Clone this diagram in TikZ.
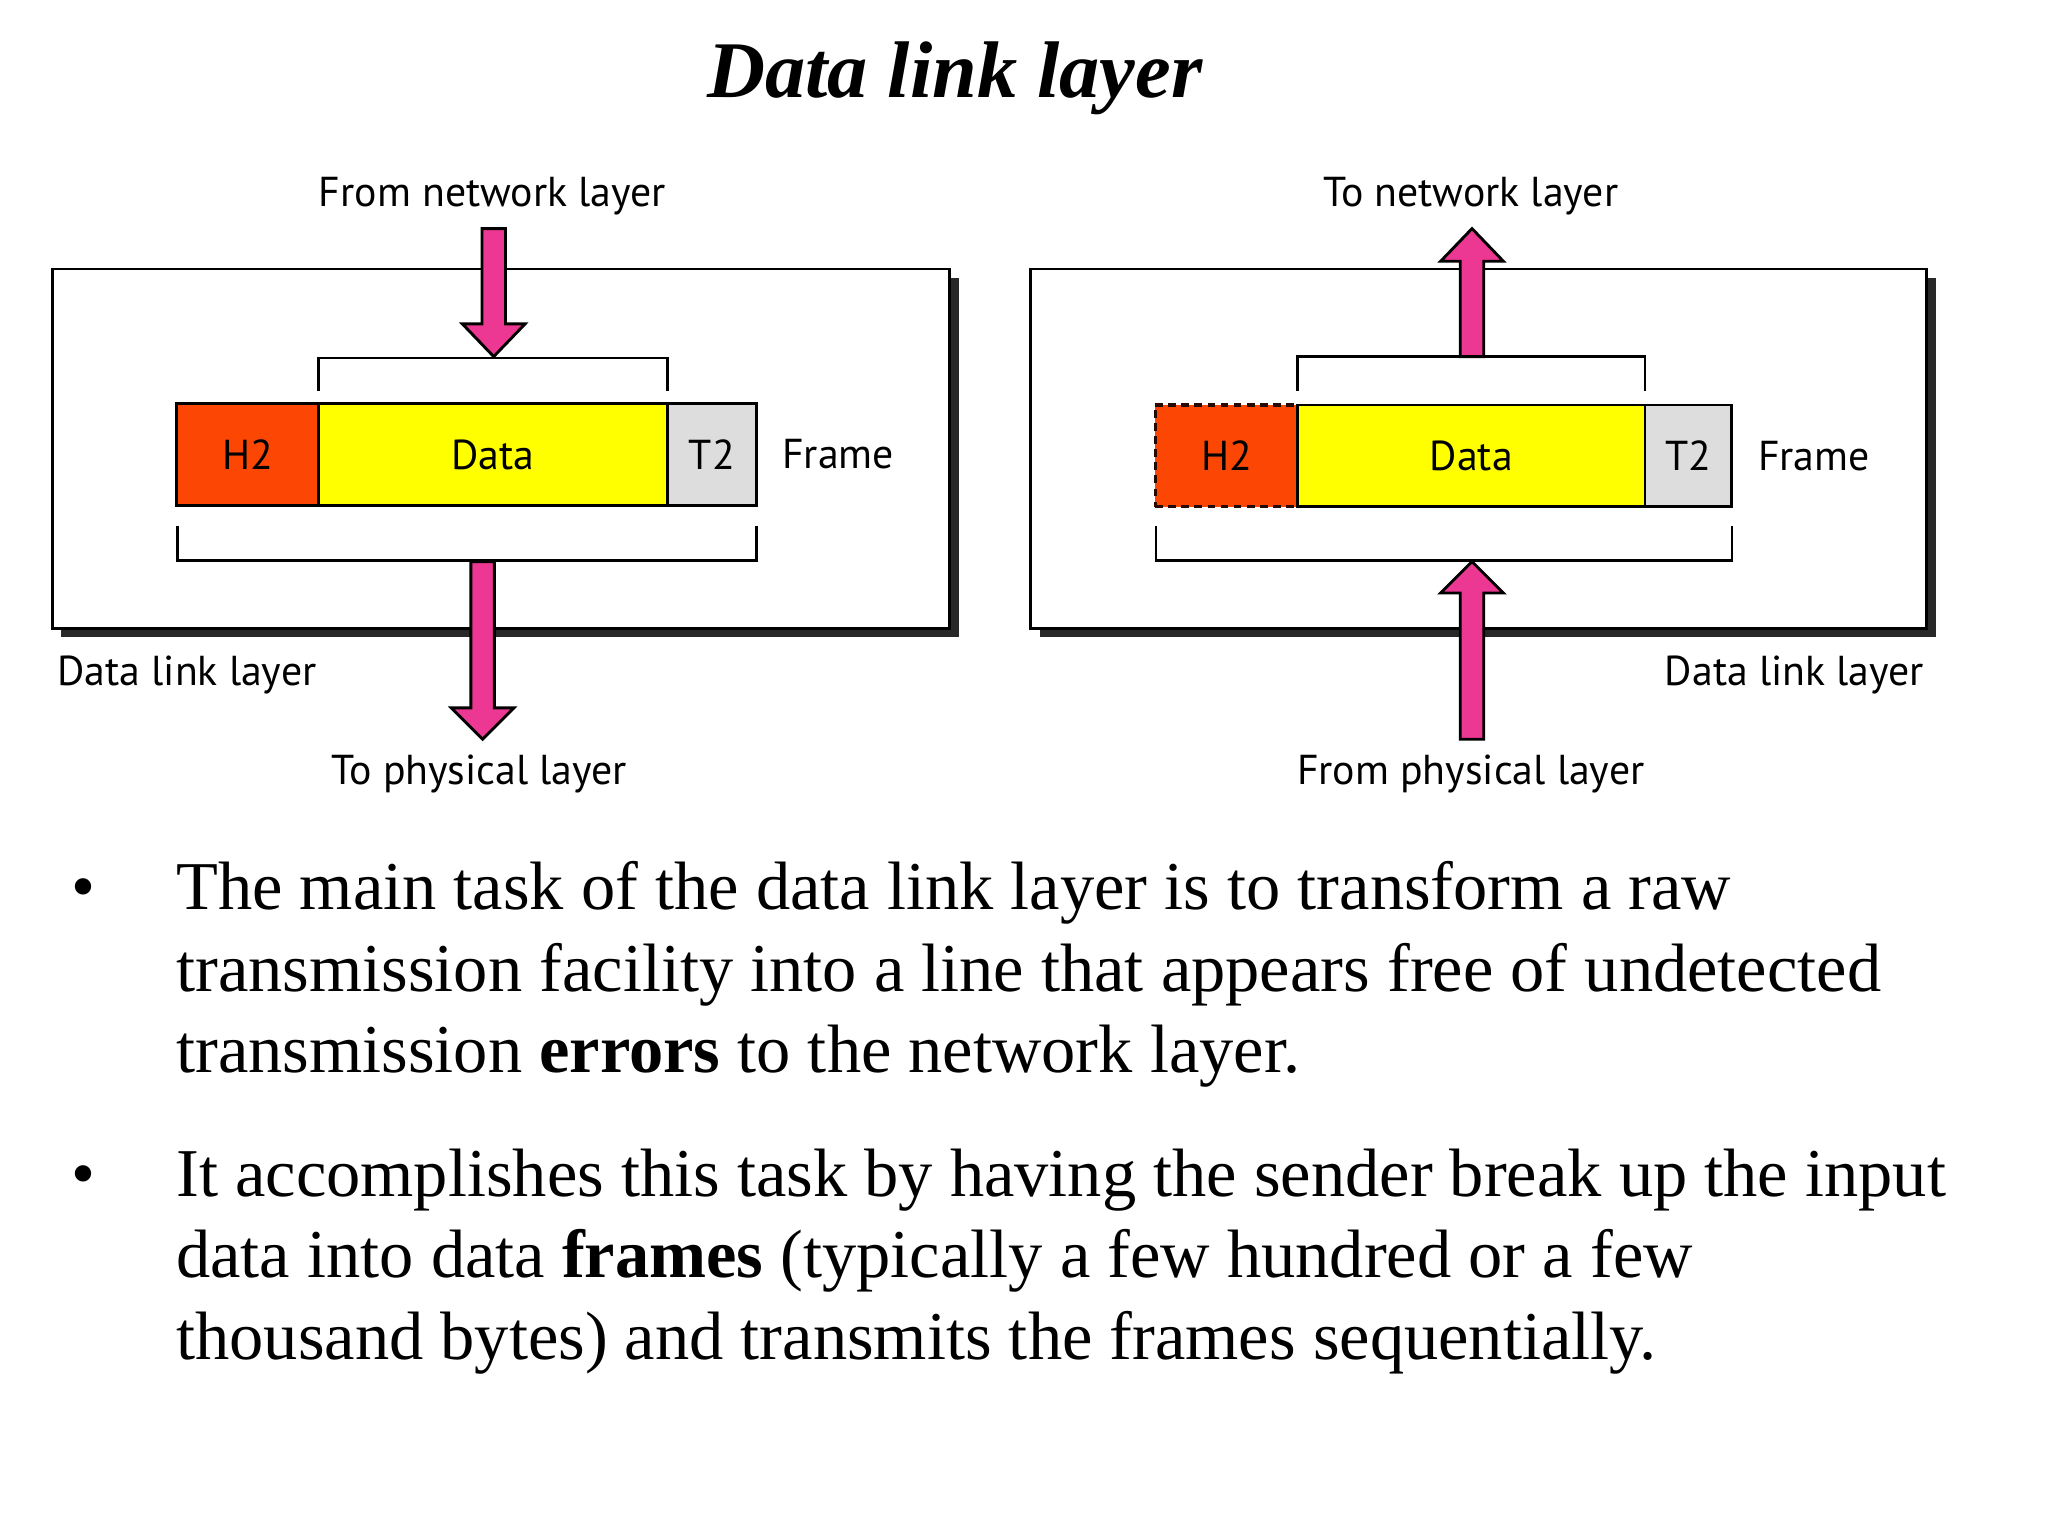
\documentclass[tikz,border=0pt]{standalone}
\usepackage{fontspec}
\setmainfont{Liberation Serif}
\newfontfamily\lblfont{PT Sans}
\definecolor{pinkarrow}{RGB}{236,56,146}
\definecolor{hdrcol}{RGB}{252,70,4}
\definecolor{datacol}{RGB}{255,255,0}
\definecolor{trlcol}{RGB}{221,221,221}
\definecolor{shadowcol}{RGB}{40,40,40}
\begin{document}
\begin{tikzpicture}[x=1pt,y=-1pt,
  lbl/.style={font=\lblfont\fontsize{32}{38}\selectfont, inner sep=0, outer sep=0},
  outerbox/.style={draw=black, line width=2pt, fill=white, inner sep=0, outer sep=0, minimum width=687pt, minimum height=275pt},
  part/.style={draw=black, line width=2pt, inner sep=0, outer sep=0, minimum height=78pt, font=\lblfont\fontsize{32}{38}\selectfont},
  bracketline/.style={draw=black, line width=2pt},
  blockarrow/.style={fill=pinkarrow, draw=black, line width=2.2pt, line join=miter},
  body/.style={font=\fontsize{52.4}{62}\selectfont, inner sep=0, outer sep=0, anchor=base west},
  bulletmark/.style={font=\fontsize{52.4}{62}\selectfont, inner sep=0, outer sep=0, anchor=base}
]
\useasboundingbox (0,0) rectangle (1568,1176);
\fill[white] (0,0) rectangle (1568,1176);

% title
\node[font=\fontsize{61.5}{72}\selectfont\bfseries\itshape, anchor=base, inner sep=0] (title) at (731,74.5) {Data link layer};

% ---------------- left panel ----------------
\fill[shadowcol] (47,213) rectangle (734,488);
\node[outerbox] (lbox) at (383.5,343.5) {};
\node[lbl, anchor=base] (lfrom) at (377,158) {From network layer};
\node[lbl, anchor=base] (lto) at (367,601) {To physical layer};
\node[lbl, anchor=base west] (ldll) at (44,525) {Data link layer};

\node[part, fill=hdrcol, minimum width=109pt] (lh2) at (189.5,348) {H2};
\node[part, fill=datacol, minimum width=267pt] (ldata) at (377.5,348) {Data};
\node[part, fill=trlcol, minimum width=68pt] (lt2) at (545,348) {T2};
\node[lbl, anchor=west] (lframe) at (599,348) {Frame};

\coordinate (ltb1) at (244,299);
\coordinate (ltb2) at (511,299);
\draw[bracketline] (ltb1) -- ++(0,-25) -| (ltb2);
\coordinate (lbb1) at (136,403);
\coordinate (lbb2) at (579,403);
\draw[bracketline] (lbb1) -- ++(0,26) -| (lbb2);

% down arrow from network layer
\filldraw[blockarrow] (369,175) -- (387,175) -- (387,248) -- (402,248) -- (378,273) -- (354,248) -- (369,248) -- cycle;
% down arrow to physical layer
\filldraw[blockarrow] (360.5,430) -- (378.5,430) -- (378.5,542) -- (393.5,542) -- (369.5,566) -- (345.5,542) -- (360.5,542) -- cycle;

% ---------------- right panel ----------------
\fill[shadowcol] (796,213) rectangle (1482,488);
\node[outerbox, minimum width=686pt] (rbox) at (1132,343.5) {};
\node[lbl, anchor=base] (rto) at (1126,158) {To network layer};
\node[lbl, anchor=base] (rfrom) at (1126,601) {From physical layer};
\node[lbl, anchor=base east] (rdll) at (1473,525) {Data link layer};

\node[part, fill=hdrcol, minimum width=109pt, line width=2.6pt, dash pattern=on 6pt off 4pt, draw=black!85!hdrcol] (rh2) at (939,349) {H2};
\node[part, fill=datacol, minimum width=266pt] (rdata) at (1126.5,349) {Data};
\node[part, fill=trlcol, minimum width=66pt] (rt2) at (1292.5,349) {T2};
\node[lbl, anchor=west] (rframe) at (1346,349) {Frame};

\coordinate (rtb1) at (993.5,299);
\coordinate (rtb2) at (1259.5,299);
\draw[bracketline] (rtb1) -- ++(0,-26) -| (rtb2);
\coordinate (rbb1) at (885,403);
\coordinate (rbb2) at (1326,403);
\draw[bracketline] (rbb1) -- ++(0,26) -| (rbb2);

% up arrow to network layer
\filldraw[blockarrow] (1118,273) -- (1136,273) -- (1136,200) -- (1151,200) -- (1127,175) -- (1103,200) -- (1118,200) -- cycle;
% up arrow from physical layer
\filldraw[blockarrow] (1118,566) -- (1136,566) -- (1136,454) -- (1151,454) -- (1127,430) -- (1103,454) -- (1118,454) -- cycle;

% ---------------- body text ----------------
\node[bulletmark] (b1) at (64,696) {•};
\node[body] (t1) at (135,696) {The main task of the data link layer is to transform a raw};
\node[body] (t2) at (135,759) {transmission facility into a line that appears free of undetected};
\node[body] (t3) at (135,821) {transmission \textbf{errors} to the network layer.};
\node[bulletmark] (b2) at (64,916) {•};
\node[body] (t4) at (135,916) {It accomplishes this task by having the sender break up the input};
\node[body] (t5) at (135,978) {data into data \textbf{frames} (typically a few hundred or a few};
\node[body] (t6) at (135,1041) {thousand bytes) and transmits the frames sequentially.};
\end{tikzpicture}
\end{document}
